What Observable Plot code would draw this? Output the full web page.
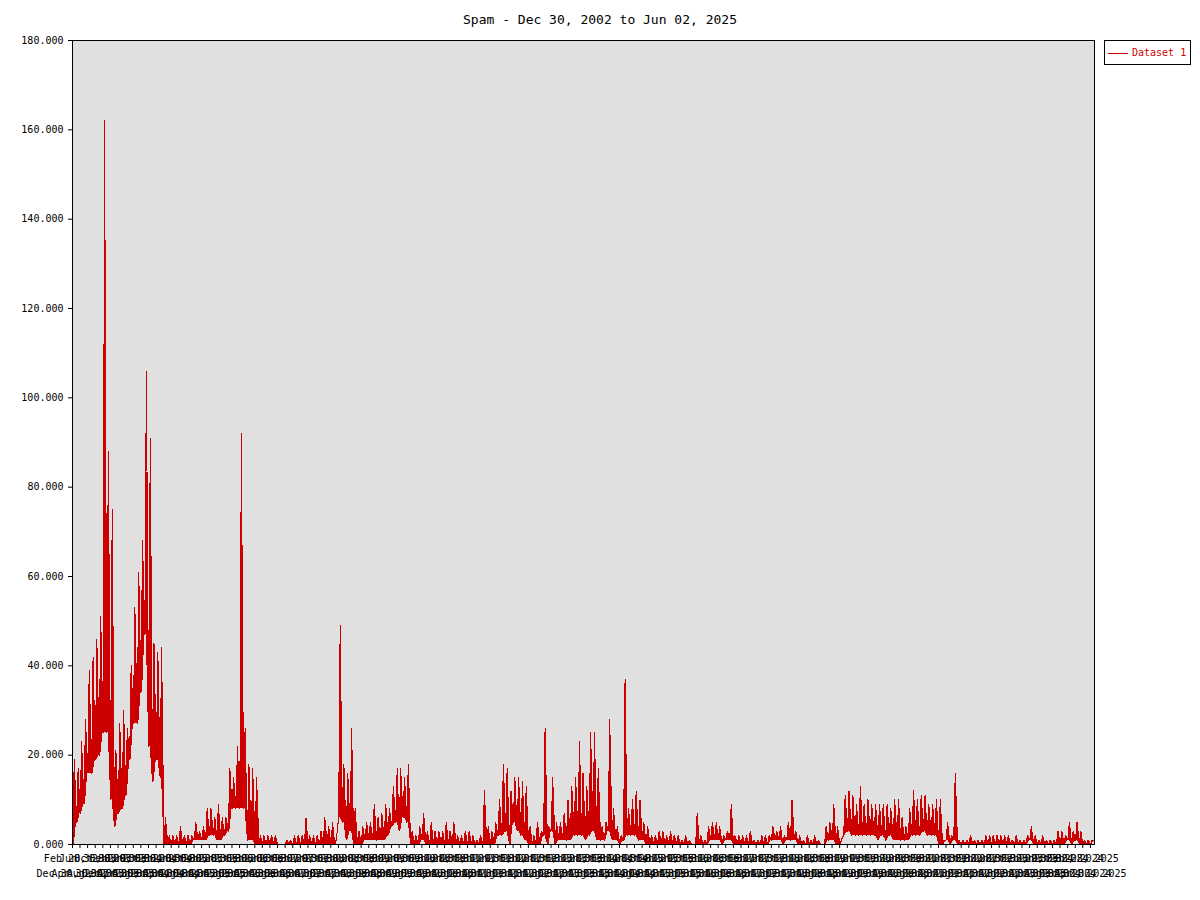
<!DOCTYPE html>
<html>
<head>
<meta charset="utf-8">
<script src="https://cdn.jsdelivr.net/npm/d3@7"></script>
<script src="https://cdn.jsdelivr.net/npm/@observablehq/plot@0.6"></script>
<style>
  body { margin: 0; background: #fff; }
  #wrap { position: relative; width: 1200px; height: 900px; }
  #title { position: absolute; left: 0; top: 12px; width: 1200px; text-align: center;
           font: 13px/16px "DejaVu Sans Mono", monospace; color: #000; white-space: pre; }
  #legend { position: absolute; left: 1104px; top: 40px; width: 85px; height: 23px;
            border: 1px solid #000; background: #fff; }
  #legend .sw { position: absolute; left: 3px; top: 12px; width: 20px; height: 1px; background: #cc0000; }
  #legend .lab { position: absolute; left: 27px; top: 6px; font: 10px/12px "DejaVu Sans Mono", monospace;
                 color: #cc0000; white-space: pre; }
  #chart { position: absolute; left: 0; top: 0; }
</style>
</head>
<body>
<div id="wrap">
  <div id="chart"></div>
  <div id="title"></div>
  <div id="legend"><div class="sw"></div><div class="lab"></div></div>
</div>
<script>
// ---- Chart text ----
const chartTitle = "Spam - Dec 30, 2002 to Jun 02, 2025";
const seriesName = "Dataset 1";
const startDate = "2002-12-30";
const endDate = "2025-06-02";
const firstMonth = "2003-01";

// ---- Per-month upper and lower envelope of the daily counts (Jan 2003 .. Jun 2025) ----
const monthlyHigh = [
  19, 17, 23, 28, 39, 42, 46, 51, 162, 88, 75, 21,   // 2003
  27, 30, 26, 40, 53, 61, 68, 106, 91, 45, 43, 44,   // 2004
  6, 2, 2, 2, 4, 2, 2, 2, 5, 3, 4, 8,                // 2005
  8, 6, 9, 6, 6, 17, 15, 22, 92, 26, 18, 17,         // 2006
  15, 2, 2, 2, 2, 2, 0, 0, 1, 1, 2, 2,               // 2007
  2, 6, 2, 2, 2, 3, 6, 4, 5, 1, 49, 18,              // 2008
  16, 26, 8, 3, 4, 5, 5, 9, 6, 7, 9, 8,              // 2009
  13, 17, 17, 15, 18, 3, 2, 4, 7, 3, 5, 3,           // 2010
  3, 3, 5, 3, 5, 2, 2, 3, 3, 2, 1, 2,                // 2011
  12, 4, 3, 5, 10, 18, 17, 12, 15, 15, 14, 13,       // 2012
  4, 2, 5, 3, 26, 4, 15, 5, 5, 7, 10, 13,            // 2013
  15, 23, 16, 13, 25, 25, 17, 4, 5, 28, 8, 4,        // 2014
  2, 37, 8, 10, 12, 10, 5, 4, 2, 2, 3, 3,            // 2015
  2, 3, 2, 2, 1, 2, 1, 0, 7, 2, 1, 4,                // 2016
  5, 5, 4, 2, 3, 9, 2, 2, 2, 2, 3, 1,                // 2017
  1, 2, 2, 2, 4, 3, 4, 2, 5, 10, 3, 2,               // 2018
  1, 2, 1, 2, 1, 0, 4, 5, 9, 4, 1, 11,               // 2019
  12, 11, 9, 13, 9, 10, 9, 9, 9, 9, 9, 8,            // 2020
  10, 10, 6, 4, 8, 12, 10, 11, 11, 9, 9, 10,         // 2021
  10, 1, 5, 2, 16, 1, 1, 1, 2, 1, 1, 1,              // 2022
  2, 2, 2, 2, 2, 2, 2, 1, 2, 1, 1, 2,                // 2023
  4, 2, 1, 2, 1, 1, 1, 3, 3, 2, 5, 3,                // 2024
  5, 3, 1, 1, 1, 5                                   // 2025
];
const monthlyLow = [
  0, 5, 7, 9, 16, 16, 19, 20, 25, 25, 10, 4,         // 2003
  7, 8, 11, 19, 27, 27, 34, 47, 22, 14, 19, 15,      // 2004
  0, 0, 0, 0, 0, 0, 0, 0, 1, 1, 1, 1,                // 2005
  2, 2, 1, 1, 2, 3, 8, 8, 8, 8, 1, 1,                // 2006
  0, 0, 0, 0, 0, 0, 0, 0, 0, 0, 0, 0,                // 2007
  0, 0, 0, 0, 0, 0, 0, 0, 0, 0, 6, 5,                // 2008
  1, 3, 0, 0, 0, 1, 1, 1, 1, 1, 1, 2,                // 2009
  4, 5, 3, 6, 5, 0, 0, 0, 1, 0, 0, 0,                // 2010
  0, 0, 0, 0, 0, 0, 0, 0, 0, 0, 0, 0,                // 2011
  0, 0, 0, 0, 2, 2, 3, 0, 5, 3, 2, 1,                // 2012
  0, 0, 0, 0, 2, 0, 3, 0, 1, 1, 1, 1,                // 2013
  2, 2, 2, 1, 2, 3, 1, 1, 1, 3, 1, 1,                // 2014
  0, 1, 2, 2, 2, 1, 1, 0, 0, 0, 0, 0,                // 2015
  0, 0, 0, 0, 0, 0, 0, 0, 0, 0, 0, 0,                // 2016
  1, 1, 1, 0, 1, 1, 0, 0, 0, 0, 0, 0,                // 2017
  0, 0, 0, 0, 1, 1, 1, 0, 1, 1, 1, 0,                // 2018
  0, 0, 0, 0, 0, 0, 0, 1, 1, 0, 0, 2,                // 2019
  3, 2, 2, 2, 2, 2, 2, 2, 1, 2, 1, 2,                // 2020
  1, 1, 1, 1, 1, 2, 2, 2, 3, 2, 2, 2,                // 2021
  0, 0, 1, 0, 1, 0, 0, 0, 0, 0, 0, 0,                // 2022
  0, 0, 0, 0, 0, 0, 0, 0, 0, 0, 0, 0,                // 2023
  1, 0, 0, 0, 0, 0, 0, 0, 0, 0, 1, 0,                // 2024
  1, 0, 0, 0, 0, 1                                   // 2025
];

// ---- Axis ticks ----
const yTicks = [0, 20, 40, 60, 80, 100, 120, 140, 160, 180];
const xTickStepMonths = 2;
const xTickCount = 135;

// ---- Build the drawing table ----
const parse = d3.utcParse("%Y-%m-%d");
const t0 = parse(startDate), t1 = parse(endDate);
const m0 = d3.utcParse("%Y-%m")(firstMonth);
const clamp = d => (d > t1 ? t1 : d);
const points = [];
monthlyHigh.forEach((h, i) => {
  const ms = d3.utcMonth.offset(m0, i);
  const lo = monthlyLow[i];
  points.push({date: clamp(ms), v: lo, base: lo});
  points.push({date: clamp(d3.utcDay.offset(ms, 12)), v: h, base: lo});
});

const xTicks = d3.range(xTickCount).map(k => {
  const y = t0.getUTCFullYear(), mo = t0.getUTCMonth() + xTickStepMonths * k;
  const dim = new Date(Date.UTC(y, mo + 1, 0)).getUTCDate();
  return new Date(Date.UTC(y, mo, Math.min(t0.getUTCDate(), dim)));
});
const evenTicks = xTicks.filter((d, i) => i % 2 === 0);
const oddTicks = xTicks.filter((d, i) => i % 2 === 1);
const fmtX = d3.utcFormat("%b %d, %Y");
const red = "#cc0000";

const chart = Plot.plot({
  width: 1200,
  height: 900,
  marginLeft: 72,
  marginRight: 106,
  marginTop: 40,
  marginBottom: 56,
  x: {type: "utc", domain: [t0, t1]},
  y: {domain: [0, 180]},
  style: {fontFamily: "'DejaVu Sans Mono', monospace", fontSize: "10px", background: "#fff", color: "#000", overflow: "visible"},
  marks: [
    Plot.frame({fill: "#e0e0e0", stroke: null}),
    Plot.areaY(points, {x: "date", y1: "base", y2: "v", fill: red, curve: "linear", shapeRendering: "crispEdges"}),
    Plot.line(points, {x: "date", y: "v", stroke: red, strokeWidth: 1, shapeRendering: "crispEdges"}),
    Plot.frame({stroke: "#000", shapeRendering: "crispEdges"}),
    Plot.axisY({ticks: yTicks, tickSize: 4, tickPadding: 5, tickFormat: d3.format(".3f"), label: null, fontSize: 10}),
    Plot.axisX({ticks: oddTicks, tickSize: 4, tickPadding: 6, tickFormat: fmtX, label: null, fontSize: 10}),
    Plot.axisX({ticks: evenTicks, tickSize: 4, tickPadding: 21, tickFormat: fmtX, label: null, fontSize: 10})
  ]
});
document.getElementById("chart").append(chart);
document.getElementById("title").textContent = chartTitle;
document.querySelector("#legend .lab").textContent = seriesName;
</script>
</body>
</html>
